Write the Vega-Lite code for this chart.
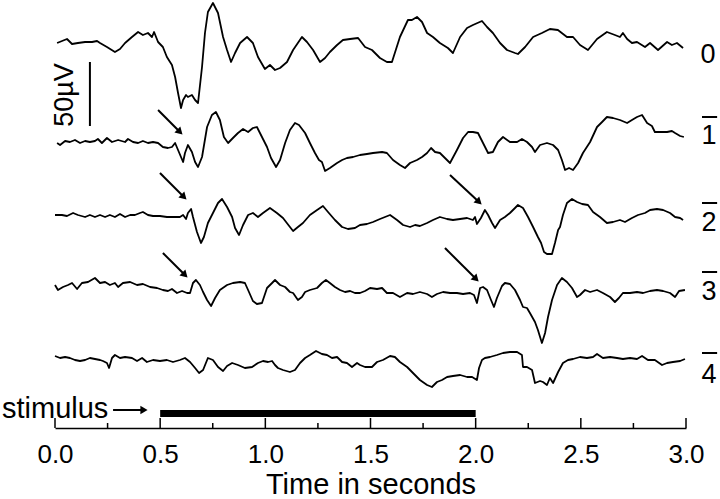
{
  "$schema": "https://vega.github.io/schema/vega-lite/v6.json",
  "width": 631,
  "height": 428,
  "autosize": {"type": "none"},
  "padding": {"left": 55, "top": 0, "right": 34, "bottom": 71},
  "background": "white",
  "config": {"view": {"stroke": null}},
  "datasets": {
    "traces": [
      {"s":"0","t":0.010,"y":43},{"s":"0","t":0.057,"y":39},{"s":"0","t":0.081,"y":44},{"s":"0","t":0.109,"y":43},{"s":"0","t":0.143,"y":42},{"s":"0","t":0.176,"y":42},{"s":"0","t":0.200,"y":41},{"s":"0","t":0.214,"y":43},{"s":"0","t":0.247,"y":47},{"s":"0","t":0.285,"y":52},{"s":"0","t":0.309,"y":49},{"s":"0","t":0.333,"y":43},{"s":"0","t":0.366,"y":37},{"s":"0","t":0.395,"y":32},{"s":"0","t":0.418,"y":35},{"s":"0","t":0.442,"y":33},{"s":"0","t":0.461,"y":37},{"s":"0","t":0.471,"y":32},{"s":"0","t":0.490,"y":42},{"s":"0","t":0.513,"y":47},{"s":"0","t":0.532,"y":57},{"s":"0","t":0.556,"y":65},{"s":"0","t":0.571,"y":77},{"s":"0","t":0.585,"y":93},{"s":"0","t":0.599,"y":108},{"s":"0","t":0.609,"y":100},{"s":"0","t":0.623,"y":95},{"s":"0","t":0.632,"y":97},{"s":"0","t":0.651,"y":95},{"s":"0","t":0.666,"y":100},{"s":"0","t":0.680,"y":103},{"s":"0","t":0.699,"y":67},{"s":"0","t":0.713,"y":33},{"s":"0","t":0.727,"y":12},{"s":"0","t":0.751,"y":3},{"s":"0","t":0.775,"y":13},{"s":"0","t":0.799,"y":37},{"s":"0","t":0.818,"y":50},{"s":"0","t":0.837,"y":62},{"s":"0","t":0.856,"y":53},{"s":"0","t":0.880,"y":43},{"s":"0","t":0.913,"y":37},{"s":"0","t":0.941,"y":43},{"s":"0","t":0.965,"y":57},{"s":"0","t":0.998,"y":69},{"s":"0","t":1.022,"y":65},{"s":"0","t":1.046,"y":70},{"s":"0","t":1.070,"y":68},{"s":"0","t":1.103,"y":62},{"s":"0","t":1.132,"y":50},{"s":"0","t":1.174,"y":37},{"s":"0","t":1.198,"y":42},{"s":"0","t":1.227,"y":50},{"s":"0","t":1.260,"y":62},{"s":"0","t":1.284,"y":58},{"s":"0","t":1.307,"y":52},{"s":"0","t":1.341,"y":45},{"s":"0","t":1.369,"y":40},{"s":"0","t":1.403,"y":39},{"s":"0","t":1.441,"y":38},{"s":"0","t":1.474,"y":47},{"s":"0","t":1.507,"y":50},{"s":"0","t":1.545,"y":58},{"s":"0","t":1.578,"y":62},{"s":"0","t":1.602,"y":62},{"s":"0","t":1.640,"y":37},{"s":"0","t":1.678,"y":20},{"s":"0","t":1.697,"y":20},{"s":"0","t":1.721,"y":17},{"s":"0","t":1.745,"y":22},{"s":"0","t":1.769,"y":33},{"s":"0","t":1.797,"y":37},{"s":"0","t":1.830,"y":43},{"s":"0","t":1.868,"y":48},{"s":"0","t":1.892,"y":53},{"s":"0","t":1.926,"y":37},{"s":"0","t":1.959,"y":28},{"s":"0","t":1.987,"y":25},{"s":"0","t":2.030,"y":21},{"s":"0","t":2.054,"y":27},{"s":"0","t":2.082,"y":33},{"s":"0","t":2.116,"y":43},{"s":"0","t":2.149,"y":50},{"s":"0","t":2.187,"y":53},{"s":"0","t":2.201,"y":54},{"s":"0","t":2.235,"y":47},{"s":"0","t":2.273,"y":37},{"s":"0","t":2.315,"y":33},{"s":"0","t":2.353,"y":29},{"s":"0","t":2.391,"y":30},{"s":"0","t":2.434,"y":37},{"s":"0","t":2.463,"y":37},{"s":"0","t":2.496,"y":45},{"s":"0","t":2.534,"y":50},{"s":"0","t":2.577,"y":39},{"s":"0","t":2.624,"y":32},{"s":"0","t":2.662,"y":35},{"s":"0","t":2.686,"y":37},{"s":"0","t":2.700,"y":33},{"s":"0","t":2.720,"y":39},{"s":"0","t":2.743,"y":43},{"s":"0","t":2.767,"y":42},{"s":"0","t":2.805,"y":47},{"s":"0","t":2.829,"y":43},{"s":"0","t":2.867,"y":50},{"s":"0","t":2.910,"y":42},{"s":"0","t":2.933,"y":45},{"s":"0","t":2.957,"y":43},{"s":"0","t":2.986,"y":48},

      {"s":"1","t":0.010,"y":143},{"s":"1","t":0.024,"y":145},{"s":"1","t":0.048,"y":141},{"s":"1","t":0.071,"y":142},{"s":"1","t":0.095,"y":140},{"s":"1","t":0.119,"y":143},{"s":"1","t":0.143,"y":141},{"s":"1","t":0.166,"y":142},{"s":"1","t":0.190,"y":141},{"s":"1","t":0.204,"y":139},{"s":"1","t":0.223,"y":143},{"s":"1","t":0.247,"y":138},{"s":"1","t":0.271,"y":142},{"s":"1","t":0.300,"y":140},{"s":"1","t":0.333,"y":142},{"s":"1","t":0.347,"y":139},{"s":"1","t":0.371,"y":142},{"s":"1","t":0.395,"y":143},{"s":"1","t":0.418,"y":141},{"s":"1","t":0.442,"y":143},{"s":"1","t":0.466,"y":142},{"s":"1","t":0.490,"y":143},{"s":"1","t":0.513,"y":147},{"s":"1","t":0.537,"y":148},{"s":"1","t":0.556,"y":147},{"s":"1","t":0.571,"y":143},{"s":"1","t":0.585,"y":150},{"s":"1","t":0.609,"y":162},{"s":"1","t":0.618,"y":153},{"s":"1","t":0.632,"y":145},{"s":"1","t":0.651,"y":152},{"s":"1","t":0.666,"y":162},{"s":"1","t":0.680,"y":167},{"s":"1","t":0.699,"y":157},{"s":"1","t":0.723,"y":127},{"s":"1","t":0.746,"y":115},{"s":"1","t":0.765,"y":112},{"s":"1","t":0.784,"y":120},{"s":"1","t":0.803,"y":137},{"s":"1","t":0.823,"y":143},{"s":"1","t":0.846,"y":138},{"s":"1","t":0.870,"y":133},{"s":"1","t":0.894,"y":129},{"s":"1","t":0.918,"y":132},{"s":"1","t":0.941,"y":128},{"s":"1","t":0.960,"y":127},{"s":"1","t":0.984,"y":137},{"s":"1","t":1.008,"y":147},{"s":"1","t":1.027,"y":158},{"s":"1","t":1.051,"y":167},{"s":"1","t":1.070,"y":160},{"s":"1","t":1.094,"y":143},{"s":"1","t":1.117,"y":130},{"s":"1","t":1.141,"y":123},{"s":"1","t":1.160,"y":125},{"s":"1","t":1.189,"y":133},{"s":"1","t":1.212,"y":143},{"s":"1","t":1.236,"y":153},{"s":"1","t":1.255,"y":160},{"s":"1","t":1.269,"y":162},{"s":"1","t":1.284,"y":171},{"s":"1","t":1.307,"y":168},{"s":"1","t":1.341,"y":163},{"s":"1","t":1.365,"y":160},{"s":"1","t":1.388,"y":158},{"s":"1","t":1.417,"y":157},{"s":"1","t":1.450,"y":155},{"s":"1","t":1.483,"y":154},{"s":"1","t":1.512,"y":153},{"s":"1","t":1.555,"y":152},{"s":"1","t":1.578,"y":153},{"s":"1","t":1.607,"y":160},{"s":"1","t":1.640,"y":165},{"s":"1","t":1.664,"y":168},{"s":"1","t":1.688,"y":163},{"s":"1","t":1.721,"y":160},{"s":"1","t":1.745,"y":157},{"s":"1","t":1.769,"y":153},{"s":"1","t":1.788,"y":148},{"s":"1","t":1.807,"y":152},{"s":"1","t":1.830,"y":153},{"s":"1","t":1.854,"y":158},{"s":"1","t":1.878,"y":163},{"s":"1","t":1.911,"y":150},{"s":"1","t":1.940,"y":138},{"s":"1","t":1.964,"y":132},{"s":"1","t":1.987,"y":132},{"s":"1","t":2.011,"y":133},{"s":"1","t":2.035,"y":143},{"s":"1","t":2.059,"y":153},{"s":"1","t":2.082,"y":152},{"s":"1","t":2.106,"y":142},{"s":"1","t":2.130,"y":137},{"s":"1","t":2.163,"y":142},{"s":"1","t":2.197,"y":142},{"s":"1","t":2.220,"y":139},{"s":"1","t":2.244,"y":142},{"s":"1","t":2.268,"y":147},{"s":"1","t":2.282,"y":152},{"s":"1","t":2.306,"y":145},{"s":"1","t":2.339,"y":143},{"s":"1","t":2.368,"y":145},{"s":"1","t":2.392,"y":150},{"s":"1","t":2.410,"y":160},{"s":"1","t":2.425,"y":170},{"s":"1","t":2.444,"y":168},{"s":"1","t":2.463,"y":170},{"s":"1","t":2.487,"y":163},{"s":"1","t":2.510,"y":153},{"s":"1","t":2.544,"y":142},{"s":"1","t":2.577,"y":127},{"s":"1","t":2.601,"y":122},{"s":"1","t":2.624,"y":117},{"s":"1","t":2.653,"y":118},{"s":"1","t":2.686,"y":120},{"s":"1","t":2.720,"y":123},{"s":"1","t":2.743,"y":120},{"s":"1","t":2.767,"y":117},{"s":"1","t":2.791,"y":115},{"s":"1","t":2.815,"y":123},{"s":"1","t":2.838,"y":126},{"s":"1","t":2.852,"y":132},{"s":"1","t":2.876,"y":132},{"s":"1","t":2.910,"y":132},{"s":"1","t":2.933,"y":131},{"s":"1","t":2.948,"y":133},{"s":"1","t":2.972,"y":136},{"s":"1","t":2.990,"y":137},

      {"s":"2","t":0.000,"y":215},{"s":"2","t":0.033,"y":215},{"s":"2","t":0.057,"y":216},{"s":"2","t":0.086,"y":213},{"s":"2","t":0.109,"y":215},{"s":"2","t":0.143,"y":217},{"s":"2","t":0.166,"y":215},{"s":"2","t":0.190,"y":217},{"s":"2","t":0.214,"y":215},{"s":"2","t":0.238,"y":217},{"s":"2","t":0.261,"y":215},{"s":"2","t":0.285,"y":217},{"s":"2","t":0.309,"y":214},{"s":"2","t":0.333,"y":217},{"s":"2","t":0.357,"y":215},{"s":"2","t":0.380,"y":215},{"s":"2","t":0.404,"y":213},{"s":"2","t":0.418,"y":212},{"s":"2","t":0.442,"y":215},{"s":"2","t":0.466,"y":216},{"s":"2","t":0.499,"y":216},{"s":"2","t":0.532,"y":217},{"s":"2","t":0.561,"y":217},{"s":"2","t":0.594,"y":217},{"s":"2","t":0.609,"y":215},{"s":"2","t":0.623,"y":219},{"s":"2","t":0.632,"y":213},{"s":"2","t":0.647,"y":209},{"s":"2","t":0.656,"y":217},{"s":"2","t":0.675,"y":232},{"s":"2","t":0.694,"y":243},{"s":"2","t":0.708,"y":237},{"s":"2","t":0.727,"y":223},{"s":"2","t":0.751,"y":213},{"s":"2","t":0.775,"y":203},{"s":"2","t":0.794,"y":199},{"s":"2","t":0.818,"y":207},{"s":"2","t":0.842,"y":217},{"s":"2","t":0.856,"y":228},{"s":"2","t":0.875,"y":235},{"s":"2","t":0.894,"y":225},{"s":"2","t":0.918,"y":215},{"s":"2","t":0.941,"y":213},{"s":"2","t":0.965,"y":217},{"s":"2","t":0.989,"y":213},{"s":"2","t":1.022,"y":208},{"s":"2","t":1.055,"y":213},{"s":"2","t":1.084,"y":218},{"s":"2","t":1.117,"y":227},{"s":"2","t":1.132,"y":231},{"s":"2","t":1.155,"y":227},{"s":"2","t":1.179,"y":223},{"s":"2","t":1.212,"y":215},{"s":"2","t":1.246,"y":210},{"s":"2","t":1.274,"y":206},{"s":"2","t":1.298,"y":212},{"s":"2","t":1.331,"y":220},{"s":"2","t":1.365,"y":227},{"s":"2","t":1.393,"y":229},{"s":"2","t":1.426,"y":228},{"s":"2","t":1.450,"y":225},{"s":"2","t":1.483,"y":224},{"s":"2","t":1.512,"y":222},{"s":"2","t":1.545,"y":219},{"s":"2","t":1.593,"y":215},{"s":"2","t":1.626,"y":220},{"s":"2","t":1.655,"y":225},{"s":"2","t":1.688,"y":227},{"s":"2","t":1.712,"y":225},{"s":"2","t":1.735,"y":226},{"s":"2","t":1.769,"y":223},{"s":"2","t":1.797,"y":220},{"s":"2","t":1.830,"y":217},{"s":"2","t":1.864,"y":219},{"s":"2","t":1.892,"y":220},{"s":"2","t":1.926,"y":219},{"s":"2","t":1.959,"y":218},{"s":"2","t":1.987,"y":220},{"s":"2","t":1.997,"y":217},{"s":"2","t":2.006,"y":224},{"s":"2","t":2.025,"y":218},{"s":"2","t":2.044,"y":210},{"s":"2","t":2.059,"y":215},{"s":"2","t":2.078,"y":223},{"s":"2","t":2.092,"y":228},{"s":"2","t":2.116,"y":220},{"s":"2","t":2.139,"y":217},{"s":"2","t":2.163,"y":213},{"s":"2","t":2.187,"y":208},{"s":"2","t":2.201,"y":205},{"s":"2","t":2.225,"y":208},{"s":"2","t":2.249,"y":217},{"s":"2","t":2.273,"y":227},{"s":"2","t":2.296,"y":237},{"s":"2","t":2.311,"y":243},{"s":"2","t":2.325,"y":252},{"s":"2","t":2.339,"y":254},{"s":"2","t":2.363,"y":254},{"s":"2","t":2.377,"y":243},{"s":"2","t":2.392,"y":230},{"s":"2","t":2.401,"y":227},{"s":"2","t":2.415,"y":215},{"s":"2","t":2.434,"y":203},{"s":"2","t":2.458,"y":199},{"s":"2","t":2.482,"y":202},{"s":"2","t":2.506,"y":204},{"s":"2","t":2.534,"y":205},{"s":"2","t":2.558,"y":212},{"s":"2","t":2.591,"y":217},{"s":"2","t":2.624,"y":223},{"s":"2","t":2.653,"y":222},{"s":"2","t":2.686,"y":220},{"s":"2","t":2.710,"y":222},{"s":"2","t":2.743,"y":218},{"s":"2","t":2.772,"y":215},{"s":"2","t":2.805,"y":213},{"s":"2","t":2.829,"y":210},{"s":"2","t":2.862,"y":209},{"s":"2","t":2.891,"y":210},{"s":"2","t":2.924,"y":213},{"s":"2","t":2.948,"y":217},{"s":"2","t":2.972,"y":218},{"s":"2","t":2.986,"y":220},

      {"s":"3","t":0.000,"y":285},{"s":"3","t":0.014,"y":290},{"s":"3","t":0.038,"y":287},{"s":"3","t":0.062,"y":285},{"s":"3","t":0.081,"y":283},{"s":"3","t":0.105,"y":289},{"s":"3","t":0.128,"y":283},{"s":"3","t":0.157,"y":282},{"s":"3","t":0.190,"y":278},{"s":"3","t":0.214,"y":283},{"s":"3","t":0.238,"y":282},{"s":"3","t":0.261,"y":285},{"s":"3","t":0.285,"y":283},{"s":"3","t":0.300,"y":287},{"s":"3","t":0.323,"y":283},{"s":"3","t":0.357,"y":282},{"s":"3","t":0.390,"y":285},{"s":"3","t":0.418,"y":284},{"s":"3","t":0.452,"y":287},{"s":"3","t":0.485,"y":288},{"s":"3","t":0.513,"y":290},{"s":"3","t":0.537,"y":291},{"s":"3","t":0.556,"y":289},{"s":"3","t":0.580,"y":293},{"s":"3","t":0.604,"y":291},{"s":"3","t":0.628,"y":293},{"s":"3","t":0.642,"y":293},{"s":"3","t":0.656,"y":283},{"s":"3","t":0.670,"y":280},{"s":"3","t":0.689,"y":285},{"s":"3","t":0.704,"y":292},{"s":"3","t":0.723,"y":300},{"s":"3","t":0.742,"y":306},{"s":"3","t":0.761,"y":298},{"s":"3","t":0.784,"y":290},{"s":"3","t":0.818,"y":285},{"s":"3","t":0.846,"y":283},{"s":"3","t":0.880,"y":282},{"s":"3","t":0.903,"y":283},{"s":"3","t":0.918,"y":290},{"s":"3","t":0.941,"y":301},{"s":"3","t":0.960,"y":304},{"s":"3","t":0.984,"y":303},{"s":"3","t":1.008,"y":288},{"s":"3","t":1.032,"y":283},{"s":"3","t":1.046,"y":280},{"s":"3","t":1.070,"y":285},{"s":"3","t":1.094,"y":287},{"s":"3","t":1.117,"y":292},{"s":"3","t":1.132,"y":293},{"s":"3","t":1.155,"y":300},{"s":"3","t":1.174,"y":297},{"s":"3","t":1.189,"y":292},{"s":"3","t":1.212,"y":290},{"s":"3","t":1.246,"y":288},{"s":"3","t":1.269,"y":283},{"s":"3","t":1.288,"y":280},{"s":"3","t":1.307,"y":283},{"s":"3","t":1.331,"y":287},{"s":"3","t":1.355,"y":290},{"s":"3","t":1.379,"y":292},{"s":"3","t":1.403,"y":291},{"s":"3","t":1.426,"y":293},{"s":"3","t":1.450,"y":293},{"s":"3","t":1.474,"y":291},{"s":"3","t":1.498,"y":288},{"s":"3","t":1.531,"y":289},{"s":"3","t":1.555,"y":288},{"s":"3","t":1.578,"y":293},{"s":"3","t":1.607,"y":293},{"s":"3","t":1.640,"y":297},{"s":"3","t":1.674,"y":293},{"s":"3","t":1.702,"y":294},{"s":"3","t":1.735,"y":292},{"s":"3","t":1.769,"y":294},{"s":"3","t":1.792,"y":297},{"s":"3","t":1.816,"y":294},{"s":"3","t":1.845,"y":292},{"s":"3","t":1.878,"y":293},{"s":"3","t":1.911,"y":293},{"s":"3","t":1.940,"y":294},{"s":"3","t":1.973,"y":293},{"s":"3","t":1.992,"y":295},{"s":"3","t":2.006,"y":303},{"s":"3","t":2.021,"y":288},{"s":"3","t":2.035,"y":287},{"s":"3","t":2.054,"y":290},{"s":"3","t":2.073,"y":300},{"s":"3","t":2.087,"y":307},{"s":"3","t":2.101,"y":298},{"s":"3","t":2.125,"y":286},{"s":"3","t":2.139,"y":283},{"s":"3","t":2.163,"y":284},{"s":"3","t":2.187,"y":290},{"s":"3","t":2.211,"y":300},{"s":"3","t":2.225,"y":307},{"s":"3","t":2.244,"y":308},{"s":"3","t":2.258,"y":313},{"s":"3","t":2.282,"y":322},{"s":"3","t":2.296,"y":330},{"s":"3","t":2.315,"y":343},{"s":"3","t":2.330,"y":333},{"s":"3","t":2.344,"y":317},{"s":"3","t":2.363,"y":300},{"s":"3","t":2.387,"y":285},{"s":"3","t":2.410,"y":278},{"s":"3","t":2.434,"y":282},{"s":"3","t":2.458,"y":288},{"s":"3","t":2.482,"y":297},{"s":"3","t":2.496,"y":295},{"s":"3","t":2.520,"y":290},{"s":"3","t":2.544,"y":292},{"s":"3","t":2.577,"y":290},{"s":"3","t":2.605,"y":293},{"s":"3","t":2.639,"y":297},{"s":"3","t":2.662,"y":302},{"s":"3","t":2.681,"y":298},{"s":"3","t":2.700,"y":293},{"s":"3","t":2.734,"y":293},{"s":"3","t":2.767,"y":292},{"s":"3","t":2.796,"y":293},{"s":"3","t":2.829,"y":291},{"s":"3","t":2.862,"y":290},{"s":"3","t":2.891,"y":291},{"s":"3","t":2.924,"y":293},{"s":"3","t":2.948,"y":297},{"s":"3","t":2.967,"y":291},{"s":"3","t":2.995,"y":290},

      {"s":"4","t":0.000,"y":356},{"s":"4","t":0.024,"y":358},{"s":"4","t":0.048,"y":357},{"s":"4","t":0.071,"y":358},{"s":"4","t":0.095,"y":360},{"s":"4","t":0.119,"y":361},{"s":"4","t":0.143,"y":360},{"s":"4","t":0.166,"y":358},{"s":"4","t":0.190,"y":359},{"s":"4","t":0.214,"y":360},{"s":"4","t":0.228,"y":361},{"s":"4","t":0.247,"y":363},{"s":"4","t":0.257,"y":368},{"s":"4","t":0.271,"y":358},{"s":"4","t":0.285,"y":355},{"s":"4","t":0.309,"y":358},{"s":"4","t":0.333,"y":357},{"s":"4","t":0.366,"y":358},{"s":"4","t":0.390,"y":361},{"s":"4","t":0.414,"y":358},{"s":"4","t":0.437,"y":362},{"s":"4","t":0.466,"y":360},{"s":"4","t":0.499,"y":361},{"s":"4","t":0.532,"y":360},{"s":"4","t":0.561,"y":362},{"s":"4","t":0.594,"y":360},{"s":"4","t":0.618,"y":358},{"s":"4","t":0.642,"y":362},{"s":"4","t":0.666,"y":368},{"s":"4","t":0.685,"y":373},{"s":"4","t":0.704,"y":370},{"s":"4","t":0.727,"y":358},{"s":"4","t":0.751,"y":360},{"s":"4","t":0.775,"y":367},{"s":"4","t":0.799,"y":371},{"s":"4","t":0.818,"y":366},{"s":"4","t":0.842,"y":363},{"s":"4","t":0.870,"y":365},{"s":"4","t":0.903,"y":368},{"s":"4","t":0.937,"y":367},{"s":"4","t":0.965,"y":363},{"s":"4","t":0.989,"y":361},{"s":"4","t":1.013,"y":362},{"s":"4","t":1.032,"y":361},{"s":"4","t":1.046,"y":365},{"s":"4","t":1.060,"y":368},{"s":"4","t":1.084,"y":370},{"s":"4","t":1.117,"y":372},{"s":"4","t":1.141,"y":370},{"s":"4","t":1.165,"y":363},{"s":"4","t":1.189,"y":358},{"s":"4","t":1.212,"y":355},{"s":"4","t":1.241,"y":351},{"s":"4","t":1.269,"y":354},{"s":"4","t":1.293,"y":355},{"s":"4","t":1.317,"y":358},{"s":"4","t":1.341,"y":357},{"s":"4","t":1.365,"y":362},{"s":"4","t":1.388,"y":363},{"s":"4","t":1.412,"y":367},{"s":"4","t":1.436,"y":363},{"s":"4","t":1.450,"y":365},{"s":"4","t":1.474,"y":367},{"s":"4","t":1.507,"y":367},{"s":"4","t":1.531,"y":362},{"s":"4","t":1.559,"y":360},{"s":"4","t":1.593,"y":356},{"s":"4","t":1.616,"y":357},{"s":"4","t":1.640,"y":362},{"s":"4","t":1.674,"y":367},{"s":"4","t":1.702,"y":373},{"s":"4","t":1.735,"y":380},{"s":"4","t":1.769,"y":385},{"s":"4","t":1.792,"y":387},{"s":"4","t":1.816,"y":382},{"s":"4","t":1.840,"y":380},{"s":"4","t":1.864,"y":377},{"s":"4","t":1.892,"y":376},{"s":"4","t":1.926,"y":375},{"s":"4","t":1.959,"y":377},{"s":"4","t":1.983,"y":377},{"s":"4","t":2.006,"y":380},{"s":"4","t":2.016,"y":368},{"s":"4","t":2.030,"y":360},{"s":"4","t":2.044,"y":358},{"s":"4","t":2.068,"y":357},{"s":"4","t":2.101,"y":355},{"s":"4","t":2.130,"y":353},{"s":"4","t":2.163,"y":352},{"s":"4","t":2.197,"y":352},{"s":"4","t":2.220,"y":355},{"s":"4","t":2.225,"y":367},{"s":"4","t":2.244,"y":367},{"s":"4","t":2.268,"y":370},{"s":"4","t":2.282,"y":383},{"s":"4","t":2.306,"y":381},{"s":"4","t":2.320,"y":382},{"s":"4","t":2.339,"y":385},{"s":"4","t":2.353,"y":378},{"s":"4","t":2.368,"y":383},{"s":"4","t":2.392,"y":372},{"s":"4","t":2.415,"y":363},{"s":"4","t":2.439,"y":360},{"s":"4","t":2.463,"y":359},{"s":"4","t":2.496,"y":357},{"s":"4","t":2.529,"y":358},{"s":"4","t":2.558,"y":357},{"s":"4","t":2.577,"y":354},{"s":"4","t":2.605,"y":358},{"s":"4","t":2.639,"y":357},{"s":"4","t":2.672,"y":358},{"s":"4","t":2.700,"y":359},{"s":"4","t":2.734,"y":358},{"s":"4","t":2.767,"y":359},{"s":"4","t":2.791,"y":356},{"s":"4","t":2.819,"y":360},{"s":"4","t":2.852,"y":360},{"s":"4","t":2.886,"y":365},{"s":"4","t":2.910,"y":363},{"s":"4","t":2.938,"y":362},{"s":"4","t":2.972,"y":361},{"s":"4","t":2.995,"y":359}
    ],
    "ticks": [
      {"t":0,"y":428,"y2":418},{"t":0.25,"y":428,"y2":423},{"t":0.5,"y":428,"y2":418},{"t":0.75,"y":428,"y2":423},{"t":1,"y":428,"y2":418},{"t":1.25,"y":428,"y2":423},{"t":1.5,"y":428,"y2":418},{"t":1.75,"y":428,"y2":423},{"t":2,"y":428,"y2":418},{"t":2.25,"y":428,"y2":423},{"t":2.5,"y":428,"y2":418},{"t":2.75,"y":428,"y2":423},{"t":3,"y":428,"y2":418}
    ],
    "segments": [
      {"t":0.490,"y":110,"t2":0.594,"y2":132},
      {"t":0.499,"y":173,"t2":0.613,"y2":197},
      {"t":1.878,"y":175,"t2":2.016,"y2":202},
      {"t":0.513,"y":253,"t2":0.618,"y2":275},
      {"t":1.854,"y":248,"t2":2.002,"y2":279},
      {"t":0.276,"y":410,"t2":0.418,"y2":410},
      {"t":0.166,"y":62,"t2":0.166,"y2":126},
      {"t":3.076,"y":117,"t2":3.148,"y2":117},
      {"t":3.076,"y":203,"t2":3.148,"y2":203},
      {"t":3.076,"y":272,"t2":3.148,"y2":272},
      {"t":3.076,"y":353,"t2":3.148,"y2":353}
    ],
    "heads": [
      {"t":0.594,"y":132,"a":45},
      {"t":0.613,"y":197,"a":45},
      {"t":2.016,"y":202,"a":43},
      {"t":0.618,"y":275,"a":45},
      {"t":2.002,"y":279,"a":45},
      {"t":0.423,"y":410,"a":0}
    ],
    "stimulus": [{"t":0.5,"t2":2.0,"y":410,"y2":417}],
    "labels": [
      {"t":3.105,"y":63,"label":"0"},
      {"t":3.109,"y":144,"label":"1"},
      {"t":3.109,"y":231,"label":"2"},
      {"t":3.109,"y":300,"label":"3"},
      {"t":3.109,"y":383,"label":"4"}
    ],
    "stimtext": [{"t":-0.252,"y":418,"label":"stimulus"}],
    "scaletext": [{"t":0.0856,"y":95,"label":"50µV"}]
  },
  "layer": [
    {
      "data": {"name": "traces"},
      "mark": {"type": "line", "color": "black", "strokeWidth": 1.8, "strokeJoin": "round"},
      "encoding": {
        "x": {"field": "t", "type": "quantitative", "scale": {"domain": [0, 3], "nice": false},
          "axis": {"values": [0, 0.5, 1, 1.5, 2, 2.5, 3], "format": ".1f", "grid": false, "ticks": false,
            "domain": true, "domainColor": "black", "domainWidth": 1.5,
            "labelFont": "Liberation Sans", "labelFontSize": 26, "labelColor": "black", "labelPadding": 34,
            "labelBaseline": "alphabetic", "labelFlush": false, "labelOverlap": false,
            "title": "Time in seconds", "titleFont": "Liberation Sans", "titleFontSize": 29,
            "titleFontWeight": "normal", "titleColor": "black", "titleY": 65, "titleBaseline": "alphabetic"}},
        "y": {"field": "y", "type": "quantitative", "scale": {"domain": [428, 0], "nice": false, "zero": false}, "axis": null},
        "detail": {"field": "s"}
      }
    },
    {
      "data": {"name": "ticks"},
      "mark": {"type": "rule", "color": "black", "strokeWidth": 1.5},
      "encoding": {
        "x": {"field": "t", "type": "quantitative"},
        "y": {"field": "y", "type": "quantitative"},
        "y2": {"field": "y2"}
      }
    },
    {
      "data": {"name": "segments"},
      "mark": {"type": "rule", "color": "black", "strokeWidth": 2},
      "encoding": {
        "x": {"field": "t", "type": "quantitative"},
        "y": {"field": "y", "type": "quantitative"},
        "x2": {"field": "t2"},
        "y2": {"field": "y2"}
      }
    },
    {
      "data": {"name": "heads"},
      "mark": {"type": "point", "shape": "triangle-right", "filled": true, "color": "black", "opacity": 1, "size": 70},
      "encoding": {
        "x": {"field": "t", "type": "quantitative"},
        "y": {"field": "y", "type": "quantitative"},
        "angle": {"field": "a", "type": "quantitative", "scale": null}
      }
    },
    {
      "data": {"name": "stimulus"},
      "mark": {"type": "rect", "color": "black"},
      "encoding": {
        "x": {"field": "t", "type": "quantitative"},
        "x2": {"field": "t2"},
        "y": {"field": "y", "type": "quantitative"},
        "y2": {"field": "y2"}
      }
    },
    {
      "data": {"name": "labels"},
      "mark": {"type": "text", "font": "Liberation Sans", "fontSize": 27, "color": "black", "align": "center", "baseline": "alphabetic"},
      "encoding": {
        "x": {"field": "t", "type": "quantitative"},
        "y": {"field": "y", "type": "quantitative"},
        "text": {"field": "label"}
      }
    },
    {
      "data": {"name": "stimtext"},
      "mark": {"type": "text", "font": "Liberation Sans", "fontSize": 29, "color": "black", "align": "left", "baseline": "alphabetic"},
      "encoding": {
        "x": {"field": "t", "type": "quantitative"},
        "y": {"field": "y", "type": "quantitative"},
        "text": {"field": "label"}
      }
    },
    {
      "data": {"name": "scaletext"},
      "mark": {"type": "text", "font": "Liberation Sans", "fontSize": 27, "color": "black", "align": "center", "baseline": "alphabetic", "angle": 270},
      "encoding": {
        "x": {"field": "t", "type": "quantitative"},
        "y": {"field": "y", "type": "quantitative"},
        "text": {"field": "label"}
      }
    }
  ]
}
